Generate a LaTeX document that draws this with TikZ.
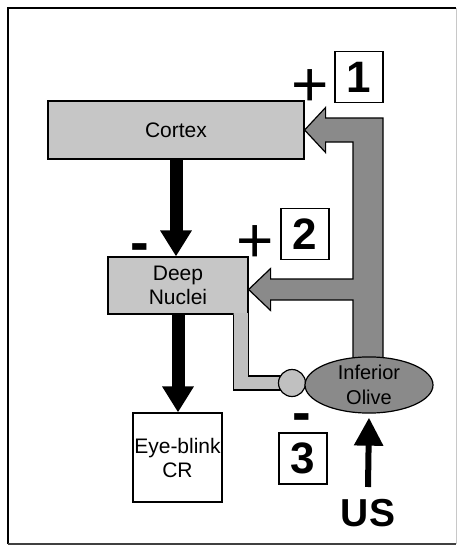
\documentclass[tikz,border=0pt]{standalone}
\usepackage{fontspec}
\setmainfont{Liberation Sans}
\usetikzlibrary{shapes.geometric, arrows.meta, positioning, calc}
\definecolor{cxgray}{RGB}{198,198,198}
\definecolor{iogray}{RGB}{138,138,138}
\definecolor{stripgray}{RGB}{192,192,192}
\definecolor{framegray}{RGB}{200,200,200}
\tikzset{
  region/.style={rectangle, draw=black, fill=cxgray, line width=1.2pt,
    inner sep=0pt, align=center, font=\fontsize{21}{24}\selectfont},
  numbox/.style={rectangle, draw=black, fill=white, line width=1.2pt,
    minimum width=48pt, minimum height=51pt, inner sep=0pt,
    font=\fontsize{44}{44}\selectfont\bfseries},
  plussign/.style={inner sep=0pt, font=\fontsize{64}{64}\selectfont},
  minussign/.style={inner sep=0pt, font=\fontsize{56}{56}\selectfont\bfseries},
  blackarrow/.style={-{Triangle[length=26pt, width=30pt]}, line width=13pt, color=black},
  usarrow/.style={-{Triangle[length=28pt, width=28pt]}, line width=6pt, color=black},
  climb/.style={draw=black, fill=iogray, line width=1.2pt, line join=miter},
  edge/.style={draw=black, line width=1.2pt}
}

\begin{document}
\begin{tikzpicture}[x=1pt, y=-1pt]
  \useasboundingbox (0,0) rectangle (458,546);
  % Frame
  \draw[line width=2pt] (8,544) -- (8,8) -- (456,8);
  \draw[framegray, line width=1pt] (456,8) -- (456,544);
  \draw[black!75, line width=2pt] (8,544) -- (456,544);

  % Boxes
  \node[region, minimum width=256pt, minimum height=58pt] (cortex) at (176,130) {Cortex};
  \node[region, minimum width=140pt, minimum height=57pt] (nuclei) at (178,285.5) {Deep\\Nuclei};
  \node[region, fill=white, minimum width=89pt, minimum height=89pt] (eyeblink) at (177.5,457.5) {Eye-blink\\CR};

  % Light pathway from Deep Nuclei to the olive
  \coordinate (syn) at (292,383);
  \coordinate (sIn) at ($(syn)+(0,-7)$);
  \coordinate (sOut) at ($(syn)+(0,7)$);
  \coordinate (sR) at ([yshift=1.5pt]nuclei.south east);
  \coordinate (sL) at ($(sR)+(-15,0)$);
  \fill[stripgray] (sL) |- (sOut) -- (sIn) -| (sR) -- cycle;
  \draw[edge] (sL |- nuclei.south) |- (sOut);
  \draw[edge] ([yshift=2pt]nuclei.south east) |- (sIn);
  \node[circle, draw=black, fill=stripgray, line width=1.2pt, minimum size=27pt, inner sep=0pt] (synapse) at (syn) {};

  % Climbing fibres
  \coordinate (trunkR) at (383,362);
  \coordinate (trunkL) at (353,362);
  \coordinate (tip2) at ($(nuclei.east)+(0,4)$);
  \coordinate (h1) at ($(cortex.east)+(21,12)$);
  \draw[climb] (cortex.east) -- ++(21,-22.5) -- ++(0,10.5) -| (trunkR) -- (trunkL)
    |- ($(tip2)+(22,10.5)$) -- ++(0,10.5) -- (tip2) -- ++(22,-21) -- ++(0,10.5)
    -| (trunkL |- h1) -- (h1) -- ++(0,10.5) -- cycle;
  \node[ellipse, draw=black, fill=iogray, line width=1.2pt, minimum width=128pt, minimum height=55pt,
    inner sep=0pt, align=center, font=\fontsize{20}{25}\selectfont] (olive) at (369,385) {Inferior\\Olive};

  % Main pathway
  \draw[blackarrow] (cortex.south) -- (cortex.south |- nuclei.north);
  \draw[blackarrow] (nuclei.south) -- (nuclei.south |- eyeblink.north);

  % US input
  \node[inner sep=0pt, font=\fontsize{39}{39}\selectfont\bfseries] (us) at (368,513) {US};
  \draw[usarrow] ([yshift=12pt]us.north) -- ([yshift=-4pt]olive.south);

  % Signs and numbers
  \node[numbox] (num1) at (359,77) {1};
  \node[numbox] (num2) at (305,234) {2};
  \node[numbox] (num3) at (303,458.5) {3};
  \node[plussign] (plus1) at (310,88) {+};
  \node[plussign] (plus2) at (255,244) {+};
  \node[minussign] (minus1) at (140,253) {-};
  \node[minussign] (minus2) at (302,423) {-};
\end{tikzpicture}
\end{document}
